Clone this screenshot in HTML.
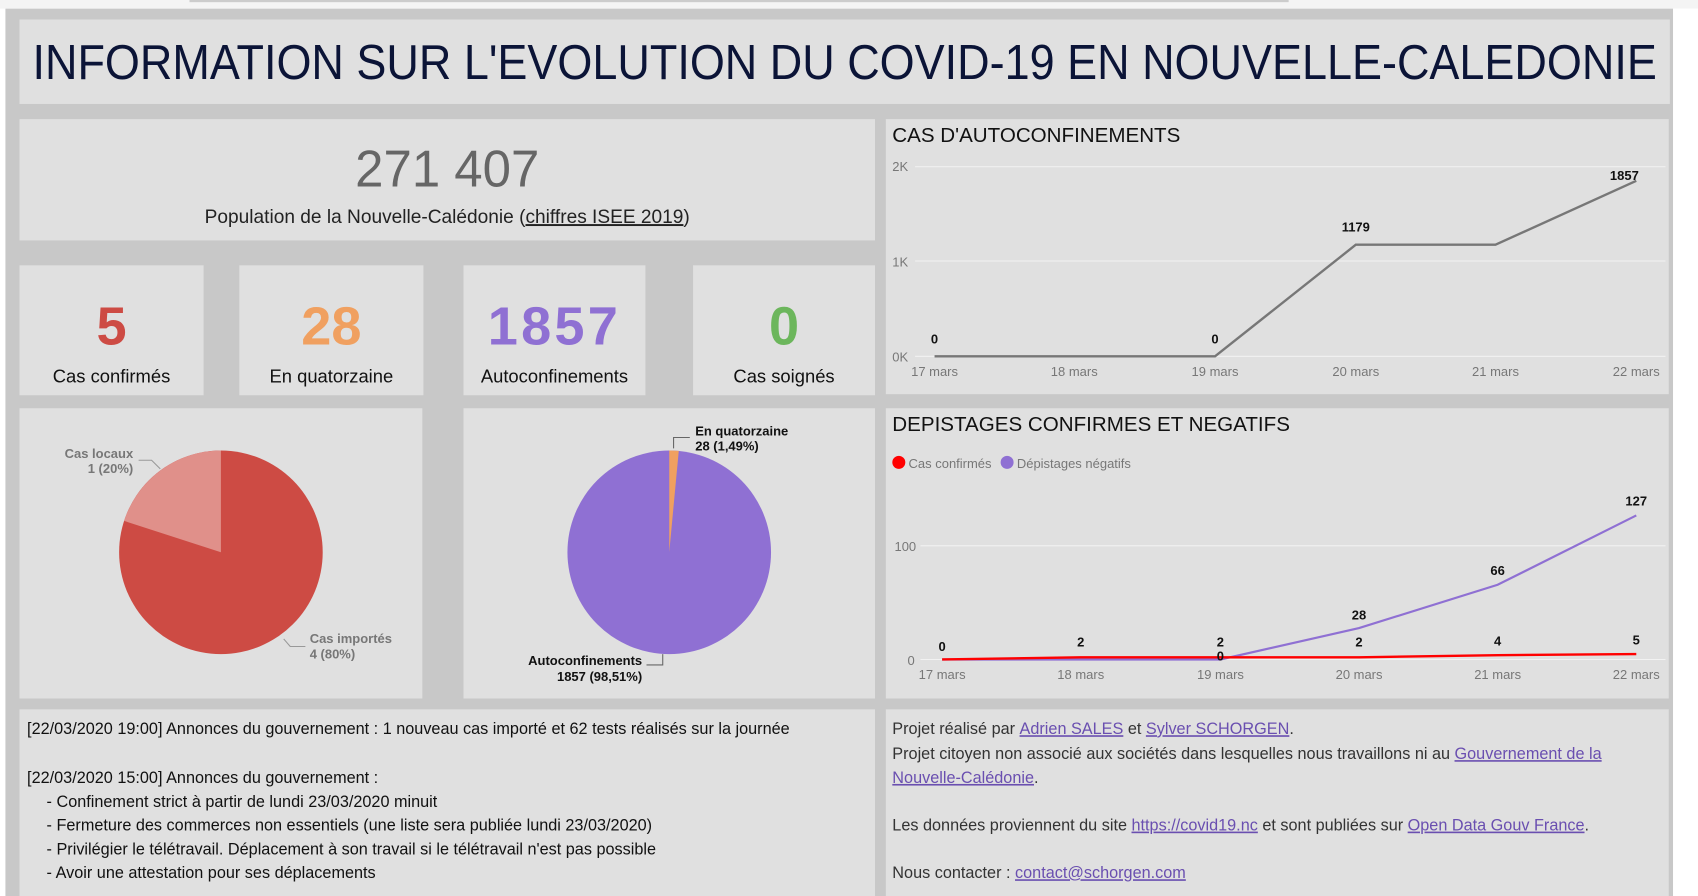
<!DOCTYPE html>
<html><head><meta charset="utf-8"><style>
html,body{margin:0;padding:0;background:#fff;width:1698px;height:896px;overflow:hidden}
svg{display:block}
text{font-family:"Liberation Sans",sans-serif}
.c{text-anchor:middle}
.ax{font-size:12px;fill:#777}
.lb{font-size:12px;fill:#111;font-weight:bold}
.tx{font-size:15px;fill:#111}
.tr{font-size:15px;fill:#333}
.lk{fill:#6a4fb0;text-decoration:underline}
</style></head><body>
<svg width="1698" height="896" viewBox="0 0 1568 827.4" preserveAspectRatio="none">
<rect x="0" y="0" width="1568" height="8" fill="#f4f4f4"/>
<rect x="175" y="0" width="1015" height="2" fill="#ccc"/>
<rect x="5" y="8" width="1540" height="820" fill="#c8c8c8"/>
<rect x="1545" y="8" width="23" height="820" fill="#ffffff"/>
<!-- title -->
<rect x="18" y="18" width="1524" height="78" fill="#e0e0e0"/>
<text x="780" y="73" class="c" font-size="45" fill="#0b1437" textLength="1500" lengthAdjust="spacingAndGlyphs">INFORMATION SUR L'EVOLUTION DU COVID-19 EN NOUVELLE-CALEDONIE</text>
<!-- population -->
<rect x="18" y="110" width="790" height="112" fill="#e0e0e0"/>
<text x="413" y="172" class="c" font-size="48" fill="#666" textLength="170" lengthAdjust="spacingAndGlyphs">271 407</text>
<text x="413" y="206" class="c" font-size="18" fill="#222" textLength="448" lengthAdjust="spacingAndGlyphs">Population de la Nouvelle-Calédonie (<tspan text-decoration="underline">chiffres ISEE 2019</tspan>)</text>
<!-- stat cards -->
<rect x="18" y="245" width="170" height="120" fill="#e0e0e0"/>
<rect x="221" y="245" width="170" height="120" fill="#e0e0e0"/>
<rect x="428" y="245" width="168" height="120" fill="#e0e0e0"/>
<rect x="640" y="245" width="168" height="120" fill="#e0e0e0"/>
<g font-size="50" font-weight="bold" class="c">
<text x="103" y="318" class="c" fill="#cd4b44">5</text>
<text x="306" y="318" class="c" fill="#f0a060">28</text>
<text x="512" y="318" class="c" fill="#8f70d3" letter-spacing="3">1857</text>
<text x="724" y="318" class="c" fill="#6cb65c">0</text>
</g>
<g font-size="17" fill="#111">
<text x="103" y="353" class="c">Cas confirmés</text>
<text x="306" y="353" class="c">En quatorzaine</text>
<text x="512" y="353" class="c">Autoconfinements</text>
<text x="724" y="353" class="c">Cas soignés</text>
</g>
<!-- pies -->
<rect x="18" y="377" width="372" height="268" fill="#e0e0e0"/>
<rect x="428" y="377" width="380" height="268" fill="#e0e0e0"/>
<circle cx="204" cy="510" r="94" fill="#cd4b44"/>
<path d="M204 510 L204 416 A94 94 0 0 0 114.6 481 Z" fill="#e0908a"/>
<polyline points="128,425 140,425 148,433" fill="none" stroke="#999"/>
<text x="123" y="423" font-size="12" fill="#777" font-weight="bold" text-anchor="end">Cas locaux</text>
<text x="123" y="437" font-size="12" fill="#777" font-weight="bold" text-anchor="end">1 (20%)</text>
<polyline points="262,590 268,597 282,597" fill="none" stroke="#999"/>
<text x="286" y="594" font-size="12" fill="#777" font-weight="bold">Cas importés</text>
<text x="286" y="608" font-size="12" fill="#777" font-weight="bold">4 (80%)</text>
<circle cx="618" cy="510" r="94" fill="#8f70d3"/>
<path d="M618 510 L618 416 A94 94 0 0 1 626.8 416.4 Z" fill="#f0a060"/>
<polyline points="622,414 622,404 637,404" fill="none" stroke="#666"/>
<text x="642" y="402" class="lb">En quatorzaine</text>
<text x="642" y="416" class="lb">28 (1,49%)</text>
<polyline points="597,614 612,614 612,604" fill="none" stroke="#666"/>
<text x="593" y="614" class="lb" text-anchor="end">Autoconfinements</text>
<text x="593" y="629" class="lb" text-anchor="end">1857 (98,51%)</text>
<!-- chart 1 -->
<rect x="818" y="110" width="723" height="254" fill="#e0e0e0"/>
<text x="824" y="131" font-size="19" fill="#111">CAS D'AUTOCONFINEMENTS</text>
<g stroke="#f2f2f2" stroke-width="1"><line x1="845" y1="154" x2="1538" y2="154"/><line x1="845" y1="241" x2="1538" y2="241"/><line x1="845" y1="329" x2="1538" y2="329"/></g>
<text x="824" y="158" class="ax">2K</text><text x="824" y="246" class="ax">1K</text><text x="824" y="334" class="ax">0K</text>
<polyline points="863,329 992,329 1122,329 1252,226 1381,226 1511,167" fill="none" stroke="#777" stroke-width="2.2"/>
<g class="ax"><text x="863" y="347" class="c">17 mars</text><text x="992" y="347" class="c">18 mars</text><text x="1122" y="347" class="c">19 mars</text><text x="1252" y="347" class="c">20 mars</text><text x="1381" y="347" class="c">21 mars</text><text x="1511" y="347" class="c">22 mars</text></g>
<g class="lb"><text x="863" y="317" class="c">0</text><text x="1122" y="317" class="c">0</text><text x="1252" y="214" class="c">1179</text><text x="1500" y="166" class="c">1857</text></g>
<!-- chart 2 -->
<rect x="818" y="377" width="723" height="268" fill="#e0e0e0"/>
<text x="824" y="398" font-size="19" fill="#111">DEPISTAGES CONFIRMES ET NEGATIFS</text>
<circle cx="830" cy="427" r="6" fill="#f00"/><text x="839" y="432" class="ax" fill="#555">Cas confirmés</text>
<circle cx="930" cy="427" r="6" fill="#8f70d3"/><text x="939" y="432" class="ax" fill="#555">Dépistages négatifs</text>
<g stroke="#f2f2f2"><line x1="850" y1="504" x2="1538" y2="504"/><line x1="850" y1="609" x2="1538" y2="609"/></g>
<text x="826" y="509" class="ax">100</text><text x="838" y="614" class="ax">0</text>
<polyline points="870,609 998,609 1127,609 1255,580 1383,540 1511,476" fill="none" stroke="#8f70d3" stroke-width="2"/>
<polyline points="870,609 998,607 1127,607 1255,607 1383,605 1511,604" fill="none" stroke="#f00" stroke-width="2.2"/>
<g class="ax"><text x="870" y="627" class="c">17 mars</text><text x="998" y="627" class="c">18 mars</text><text x="1127" y="627" class="c">19 mars</text><text x="1255" y="627" class="c">20 mars</text><text x="1383" y="627" class="c">21 mars</text><text x="1511" y="627" class="c">22 mars</text></g>
<g class="lb"><text x="870" y="601" class="c">0</text><text x="998" y="597" class="c">2</text><text x="1127" y="597" class="c">2</text><text x="1127" y="610" class="c">0</text><text x="1255" y="572" class="c">28</text><text x="1255" y="597" class="c">2</text><text x="1383" y="531" class="c">66</text><text x="1383" y="596" class="c">4</text><text x="1511" y="467" class="c">127</text><text x="1511" y="595" class="c">5</text></g>
<!-- text panels -->
<rect x="18" y="655" width="790" height="180" fill="#e0e0e0"/>
<rect x="818" y="655" width="723" height="180" fill="#e0e0e0"/>
<g class="tx">
<text x="25" y="678">[22/03/2020 19:00] Annonces du gouvernement : 1 nouveau cas importé et 62 tests réalisés sur la journée</text>
<text x="25" y="723">[22/03/2020 15:00] Annonces du gouvernement :</text>
<text x="43" y="745">- Confinement strict à partir de lundi 23/03/2020 minuit</text>
<text x="43" y="767">- Fermeture des commerces non essentiels (une liste sera publiée lundi 23/03/2020)</text>
<text x="43" y="789">- Privilégier le télétravail. Déplacement à son travail si le télétravail n'est pas possible</text>
<text x="43" y="811">- Avoir une attestation pour ses déplacements</text>
</g>
<g class="tr">
<text x="824" y="678">Projet réalisé par <tspan class="lk">Adrien SALES</tspan> et <tspan class="lk">Sylver SCHORGEN</tspan>.</text>
<text x="824" y="701">Projet citoyen non associé aux sociétés dans lesquelles nous travaillons ni au <tspan class="lk">Gouvernement de la </tspan></text>
<text x="824" y="723"><tspan class="lk">Nouvelle-Calédonie</tspan>.</text>
<text x="824" y="767">Les données proviennent du site <tspan class="lk">https://covid19.nc</tspan> et sont publiées sur <tspan class="lk">Open Data Gouv France</tspan>.</text>
<text x="824" y="811">Nous contacter : <tspan class="lk">contact@schorgen.com</tspan></text>
</g>
</svg>
</body></html>
